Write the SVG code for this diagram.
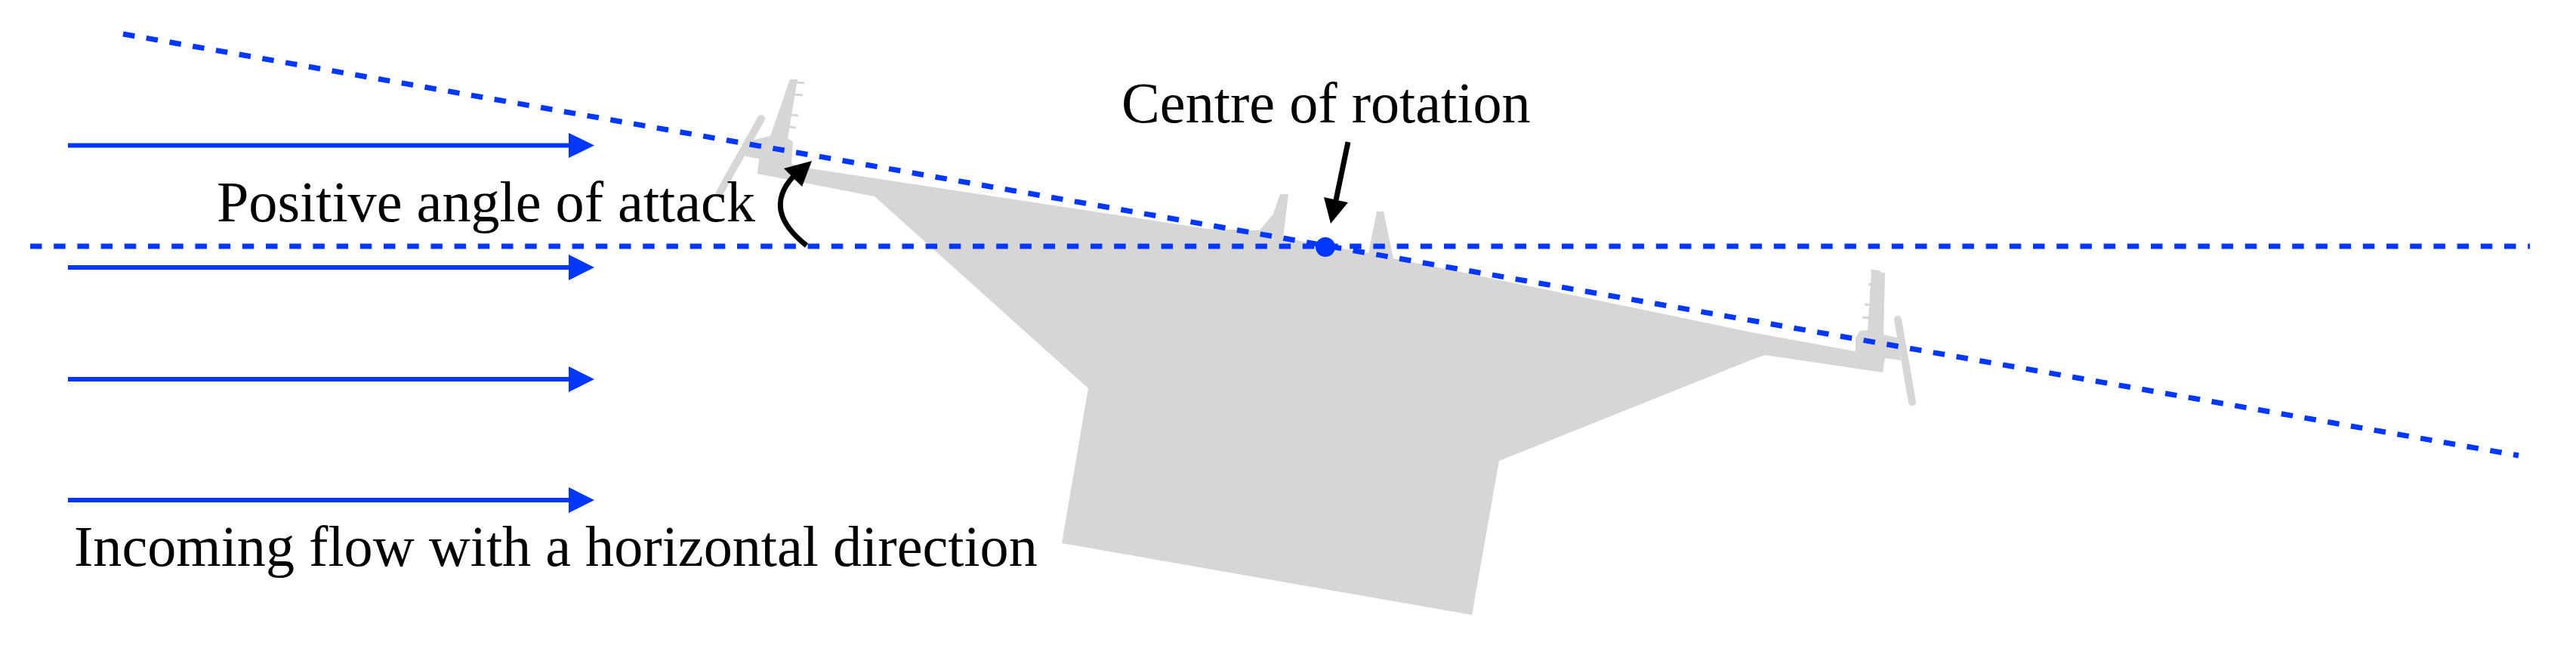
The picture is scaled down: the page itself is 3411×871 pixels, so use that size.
<svg xmlns="http://www.w3.org/2000/svg" width="3411" height="871" viewBox="0 0 3411 871">
<style>
.txt{font-family:"Liberation Serif","Times New Roman",serif;font-size:76.2px;fill:#000}
.flow{stroke:#0037ff;stroke-width:6;fill:none}
.head{fill:#0037ff}
.dash{stroke:#0037ff;stroke-width:7;fill:none;stroke-dasharray:15.5 15.7}
.tick{stroke:#d6d6d6;stroke-width:3;fill:none}
.rail{stroke:#d6d6d6;stroke-width:10;stroke-linecap:round;fill:none}
</style>
<rect width="3411" height="871" fill="#fff"/>
<g id="bridge-section">
<path fill="#d6d6d6" d="M1003 230L1005 210L987 207L987 188L1007 183L1020 180L1046 105L1056 105L1043 183L1050 188L1048 217L1073 223L1600 303L1668 305L1686 283L1695 257L1706 257L1699 315L1812 335L1823 280L1832 280L1845 342L1900 353L2320 440L2457 465L2457 447L2463 438L2473 437L2478 359L2496 361L2494 443L2512 447L2517 477L2496 474L2493 493L2337 470L2320 476L1985 610L1949 814L1406 719L1441 514L1158 260Z"/>
<path class="rail" d="M1008 157L953 255"/>
<path class="rail" d="M2513 423L2532 532"/>
<path class="tick" d="M1055 109L1065 110M1052 125L1063 126M1047 152L1057 153M1045 168L1054 169M2477 358L2490 360M2474 376L2484 377M2469 403L2480 404M2466 420L2477 421"/>
</g>
<g id="connectors">
<path class="dash" d="M40 326H3350"/>
<path class="dash" d="M163 45L3335 603"/>
<path class="flow" d="M90 192.500H760"/><path class="head" d="M753 176L787 192.500L753 209Z"/>
<path class="flow" d="M90 354H760"/><path class="head" d="M753 337L787 354L753 371Z"/>
<path class="flow" d="M90 502H760"/><path class="head" d="M753 485L787 502L753 519Z"/>
<path class="flow" d="M90 662H760"/><path class="head" d="M753 645L787 662L753 679Z"/>
<path d="M1068 325C1030 295 1022 265 1050 234" fill="none" stroke="#000" stroke-width="7"/>
<path d="M1075 213L1038 223L1062 247Z" fill="#000"/>
<path d="M1785 188L1769 265" fill="none" stroke="#000" stroke-width="7"/>
<path d="M1762 296L1753 261L1785 268Z" fill="#000"/>
</g>
<g id="centre-of-rotation"><circle cx="1755" cy="327" r="13" fill="#0037ff"/></g>
<g id="labels">
<text class="txt" x="1485" y="162">Centre of rotation</text>
<text class="txt" x="287" y="293">Positive angle of attack</text>
<text class="txt" x="98" y="749">Incoming flow with a horizontal direction</text>
</g>
</svg>
